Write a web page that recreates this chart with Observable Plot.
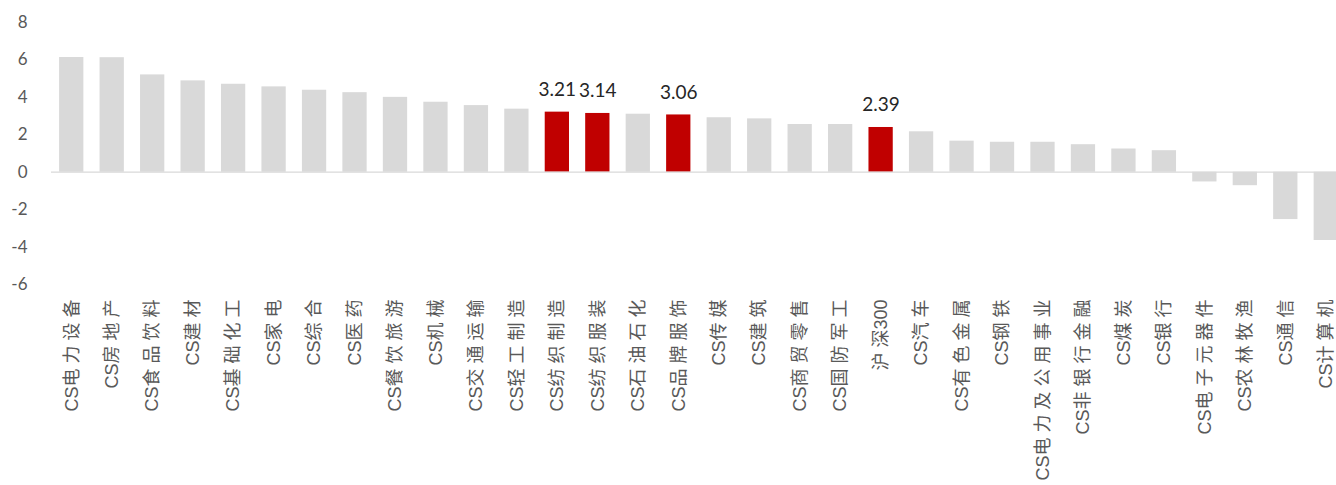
<!DOCTYPE html>
<html>
<head>
<meta charset="utf-8">
<script src="https://cdn.jsdelivr.net/npm/d3@7"></script>
<script src="https://cdn.jsdelivr.net/npm/@observablehq/plot@0.6"></script>
<style>
  html, body { margin: 0; padding: 0; background: #fff; overflow: hidden; }
  #chart svg { display: block; }
</style>
</head>
<body>
<div id="chart"></div>
<script>
// Industry weekly returns (%), sorted descending
const sectors = [
  "CS电力设备", "CS房地产", "CS食品饮料", "CS建材", "CS基础化工", "CS家电", "CS综合", "CS医药",
  "CS餐饮旅游", "CS机械", "CS交通运输", "CS轻工制造", "CS纺织制造", "CS纺织服装", "CS石油石化", "CS品牌服饰",
  "CS传媒", "CS建筑", "CS商贸零售", "CS国防军工", "沪深300", "CS汽车", "CS有色金属", "CS钢铁",
  "CS电力及公用事业", "CS非银行金融", "CS煤炭", "CS银行", "CS电子元器件", "CS农林牧渔", "CS通信", "CS计算机"
];
const returns = [
  6.13, 6.12, 5.20, 4.88, 4.70, 4.56, 4.38, 4.25,
  4.00, 3.74, 3.56, 3.37, 3.21, 3.14, 3.10, 3.06,
  2.91, 2.85, 2.55, 2.55, 2.39, 2.16, 1.66, 1.60,
  1.60, 1.47, 1.24, 1.15, -0.52, -0.72, -2.53, -3.65
];
// Sectors shown in red with their value printed above
const highlighted = ["CS纺织制造", "CS纺织服装", "CS品牌服饰", "沪深300"];
const yTicks = [-6, -4, -2, 0, 2, 4, 6, 8];

const data = sectors.map((name, i) => ({
  name,
  value: returns[i],
  hi: highlighted.includes(name)
}));

const chart = Plot.plot({
  width: 1336,
  height: 485,
  marginLeft: 51,
  marginRight: -10,
  marginTop: 22,
  marginBottom: 201,
  style: {
    color: "#595959",
    fontFamily: "Lato, 'Noto Sans CJK SC', sans-serif",
    background: "#fff"
  },
  x: { domain: sectors, paddingInner: 0.4, paddingOuter: 0.2, round: false, label: null },
  y: { domain: [-6, 8], label: null },
  marks: [
    Plot.barY(data, {
      x: "name",
      y: "value",
      fill: d => (d.hi ? "#c00000" : "#d9d9d9")
    }),
    Plot.ruleY([0], { stroke: "#d9d9d9", strokeWidth: 1.3 }),
    Plot.text(data.filter(d => d.hi), {
      x: "name",
      y: "value",
      text: d => d.value.toFixed(2),
      lineAnchor: "bottom",
      dy: -16,
      fontSize: 19,
      fill: "#262626",
      fontFamily: "Lato, sans-serif"
    }),
    Plot.axisY({
      ticks: yTicks,
      tickSize: 0,
      tickPadding: 24,
      fontSize: 17,
      tickFormat: d => String(d)
    }),
    Plot.axisX({
      tickSize: 0,
      tickPadding: 15,
      tickRotate: -90,
      fontSize: 18,
      fontFamily: "'Noto Sans CJK SC', sans-serif"
    })
  ]
});

// Spread the Chinese characters of the sector labels apart; latin runs stay tight
d3.select(chart)
  .selectAll("g[aria-label='x-axis tick label'] text")
  .each(function () {
    const t = d3.select(this);
    const runs = t.text().match(/[A-Za-z0-9]+|[^A-Za-z0-9]+/g);
    t.text("");
    for (const run of runs) {
      if (/^[A-Za-z0-9]/.test(run)) {
        t.append("tspan").attr("font-family", "'Liberation Sans', sans-serif").text(run);
      } else {
        if (run.length > 1) t.append("tspan").attr("letter-spacing", "5px").text(run.slice(0, -1));
        t.append("tspan").text(run.slice(-1));
      }
    }
  });

document.getElementById("chart").append(chart);
</script>
</body>
</html>
